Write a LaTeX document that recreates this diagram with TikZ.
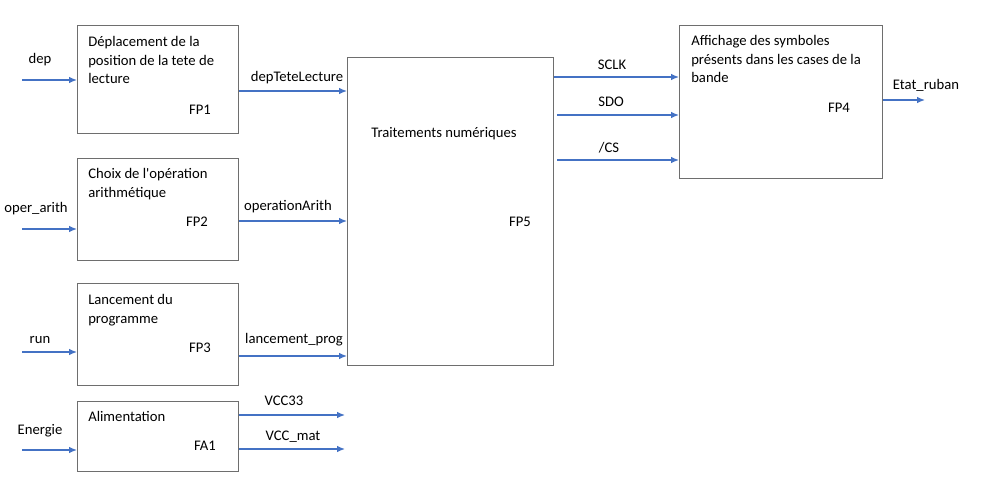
\documentclass[tikz,border=0pt]{standalone}
\usepackage{fontspec}
\setmainfont{Carlito}
\usetikzlibrary{arrows.meta}

\definecolor{flowblue}{RGB}{68,114,196}
\definecolor{boxgray}{RGB}{110,110,110}

\tikzset{
  bloc/.style={draw=boxgray, line width=1.1pt, anchor=north west, inner sep=0pt},
  btext/.style={anchor=north west, align=left, inner sep=0pt, font=\fontsize{11}{14}\selectfont},
  fpname/.style={inner sep=0pt, font=\fontsize{11}{14}\selectfont},
  sig/.style={inner sep=0pt, font=\fontsize{11}{14}\selectfont},
  flow/.style={draw=flowblue, line width=1pt, -{Latex[length=6pt,width=5pt]}}
}

\begin{document}
\begin{tikzpicture}[x=0.75pt, y=-0.75pt]
  \useasboundingbox (0,0) rectangle (988,495);

  % Blocs
  \node[bloc, minimum width=161*0.75pt, minimum height=108*0.75pt] (fp1) at (77,25) {};
  \node[bloc, minimum width=161*0.75pt, minimum height=102*0.75pt] (fp2) at (77,158) {};
  \node[bloc, minimum width=161*0.75pt, minimum height=102*0.75pt] (fp3) at (77,283) {};
  \node[bloc, minimum width=161*0.75pt, minimum height=70*0.75pt] (fa1) at (77,401) {};
  \node[bloc, minimum width=206*0.75pt, minimum height=308*0.75pt] (fp5) at (347,57) {};
  \node[bloc, minimum width=203*0.75pt, minimum height=153*0.75pt] (fp4) at (679,25) {};

  % Texte des blocs
  \node[btext] (t1) at (88,36) {Déplacement de la\\position de la tete de\\lecture};
  \node[btext] (t2) at (88,168) {Choix de l\textquotesingle opération\\arithmétique};
  \node[btext] (t3) at (88,294) {Lancement du\\programme};
  \node[btext] (t4) at (88,411) {Alimentation};
  \node[btext] (t5) at (371,127) {Traitements numériques};
  \node[btext] (t6) at (691,35) {Affichage des symboles\\présents dans les cases de la\\bande};

  \node[fpname] (n1) at (200,110) {FP1};
  \node[fpname] (n2) at (197,222) {FP2};
  \node[fpname] (n3) at (200,348) {FP3};
  \node[fpname] (n4) at (205,446) {FA1};
  \node[fpname] (n5) at (520,222) {FP5};
  \node[fpname] (n6) at (839,108) {FP4};

  % Entrees
  \coordinate (in1) at (22,80);
  \coordinate (in2) at (22,229);
  \coordinate (in3) at (22,352);
  \coordinate (in4) at (22,450);
  \node[sig] (s1) at (40,60) {dep};
  \node[sig] (s2) at (36,209) {oper\_arith};
  \node[sig] (s3) at (40,340) {run};
  \node[sig] (s4) at (40,431) {Energie};
  \draw[flow] (in1) -- (fp1.west |- in1);
  \draw[flow] (in2) -- (fp2.west |- in2);
  \draw[flow] (in3) -- (fp3.west |- in3);
  \draw[flow] (in4) -- (fa1.west |- in4);

  % Liaisons vers FP5
  \node[sig] (s5) at (297,78) {depTeteLecture};
  \node[sig] (s6) at (288,207) {operationArith};
  \node[sig] (s7) at (294,340) {lancement\_prog};
  \draw[flow] (fp1.east |- 0,91) -- (fp5.west |- 0,91);
  \draw[flow] (fp2.east |- 0,221) -- (fp5.west |- 0,221);
  \draw[flow] (fp3.east |- 0,356) -- (fp5.west |- 0,356);

  % Sorties alimentation
  \coordinate (o1) at (345,415);
  \coordinate (o2) at (345,449);
  \node[sig] (s8) at (284,401) {VCC33};
  \node[sig] (s9) at (293,437) {VCC\_mat};
  \draw[flow] (fa1.east |- o1) -- (o1);
  \draw[flow] (fa1.east |- o2) -- (o2);

  % Liaisons FP5 vers FP4
  \coordinate (b2) at (557,115);
  \coordinate (b3) at (557,160);
  \node[sig] (s10) at (612,65) {SCLK};
  \node[sig] (s11) at (611,102) {SDO};
  \node[sig] (s12) at (609,148) {/CS};
  \draw[flow] (fp5.east |- 0,77) -- (fp4.west |- 0,77);
  \draw[flow] (b2) -- (fp4.west |- b2);
  \draw[flow] (b3) -- (fp4.west |- b3);

  % Sortie
  \coordinate (out1) at (925,100);
  \node[sig] (s13) at (926,85) {Etat\_ruban};
  \draw[flow] (fp4.east |- out1) -- (out1);
\end{tikzpicture}
\end{document}
